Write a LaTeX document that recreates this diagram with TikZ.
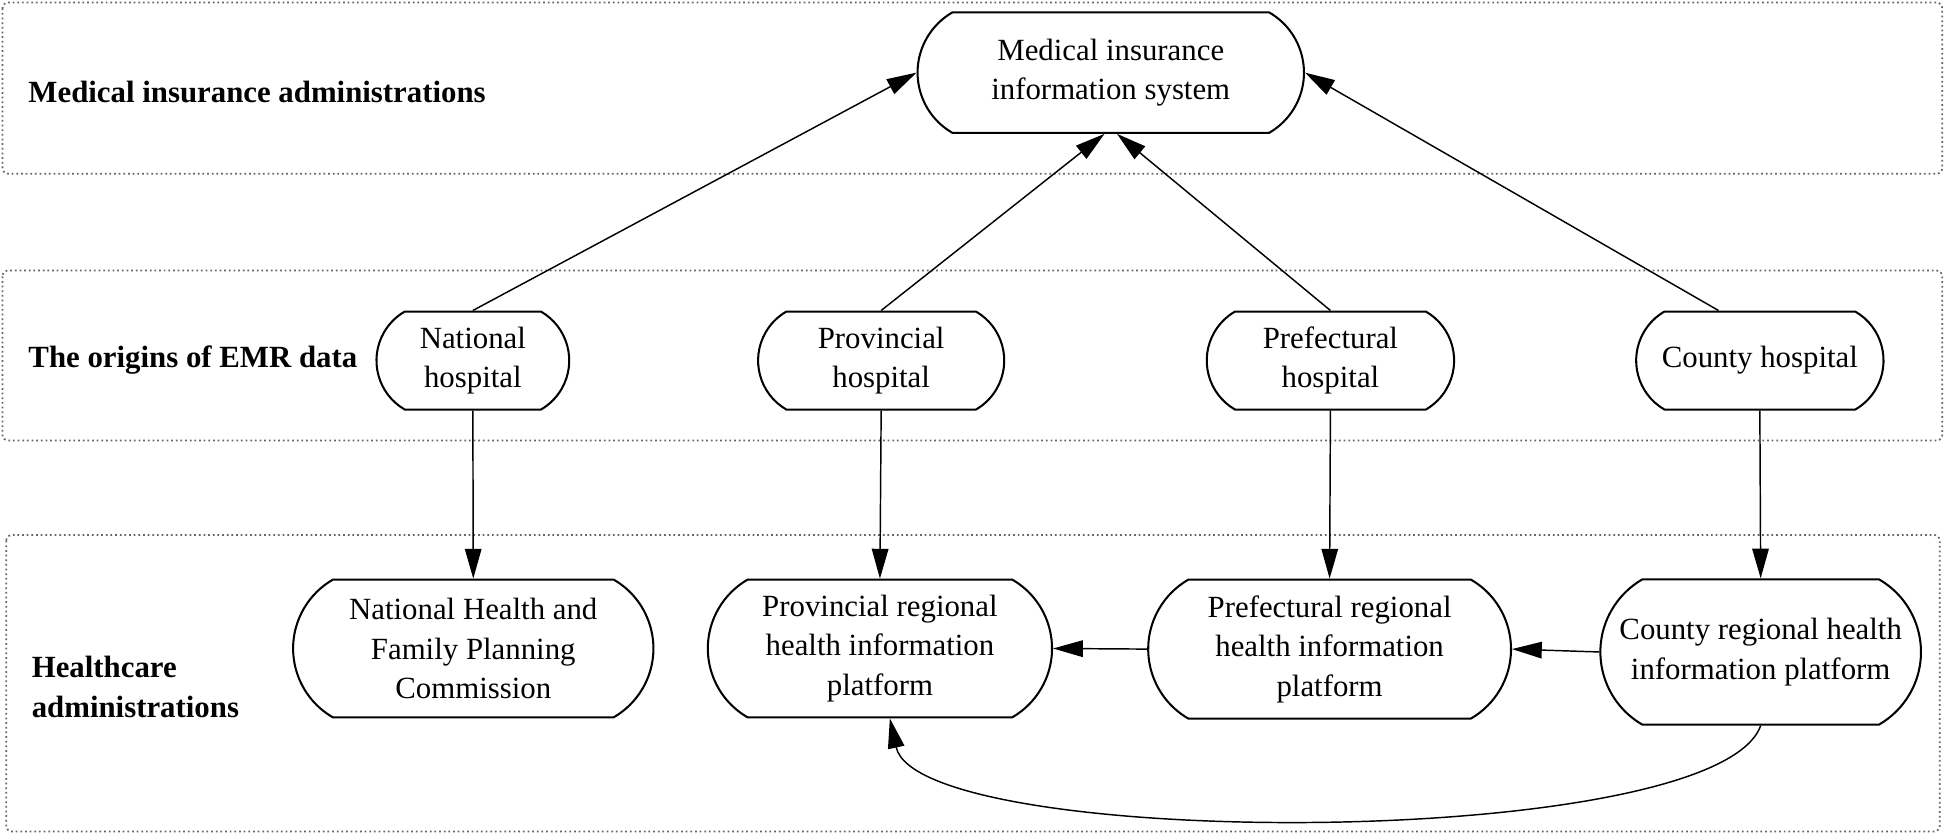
\documentclass[tikz,border=0pt]{standalone}
\usepackage{fontspec}
\setmainfont{Liberation Serif}
\usetikzlibrary{shapes.misc, arrows.meta}
\tikzset{
    lane/.style={draw=gray!80!black, densely dotted, line width=0.6pt, rounded corners=2pt},
    lanelabel/.style={anchor=west, align=left, font=\fontsize{10.6}{13.6}\selectfont\bfseries},
    box/.style={draw, rounded rectangle, rounded rectangle arc length=120, align=center, line width=0.7pt, inner sep=1pt, font=\fontsize{10.6}{13.6}\selectfont},
    flow/.style={-{Triangle[length=3.6mm,width=2mm]}, line width=0.5pt}
}
\begin{document}
\begin{tikzpicture}
        \useasboundingbox (0,0) rectangle (23.52,-10.095);
        
        %lanes
        \draw[lane] (0.03,-0.03) rectangle (23.475,-2.10);
        \draw[lane] (0.03,-3.27) rectangle (23.475,-5.325);
        \draw[lane] (0.075,-6.465) rectangle (23.445,-10.05);
        
        %labels
        \node[lanelabel] (lbins) at (0.22,-1.11) {Medical insurance administrations};
        \node[lanelabel] (lbemr) at (0.22,-4.35) {The origins of EMR data};
        \node[lanelabel] (lbcare) at (0.26,-8.30) {Healthcare\\administrations};
        
        %States
        \node[box, minimum width=4.74cm, minimum height=1.455cm] (mis) at (13.425,-0.8775) {Medical insurance\\information system};
        
        \node[box, minimum width=2.4cm, minimum height=1.185cm] (nathosp) at (5.715,-4.3575) {National\\hospital};
        \node[box, minimum width=3.045cm, minimum height=1.185cm] (provhosp) at (10.65,-4.3575) {Provincial\\hospital};
        \node[box, minimum width=3.06cm, minimum height=1.185cm] (prefhosp) at (16.08,-4.3575) {Prefectural\\hospital};
        \node[box, minimum width=3.06cm, minimum height=1.185cm] (cntyhosp) at (21.27,-4.3575) {County hospital};
        
        \node[box, minimum width=4.425cm, minimum height=1.665cm] (nhfpc) at (5.72,-7.8375) {National Health and\\Family Planning\\Commission};
        \node[box, minimum width=4.23cm, minimum height=1.665cm] (provplat) at (10.635,-7.8375) {Provincial regional\\health information\\platform};
        \node[box, minimum width=4.455cm, minimum height=1.68cm] (prefplat) at (16.07,-7.845) {Prefectural regional\\health information\\platform};
        \node[box, minimum width=3.945cm, minimum height=1.755cm] (cntyplat) at (21.28,-7.88) {County regional health\\information platform};
        
        %Edges
            %up
        \draw[flow] (nathosp.north) -- (mis.west);
        \draw[flow] (provhosp.north) -- ([xshift=-0.075cm]mis.south);
        \draw[flow] (prefhosp.north) -- ([xshift=0.075cm]mis.south);
        \draw[flow] ([xshift=-0.5cm]cntyhosp.north) -- (mis.east);
        
            %down
        \draw[flow] (nathosp.south) -- (nhfpc.north);
        \draw[flow] (provhosp.south) -- (provplat.north);
        \draw[flow] (prefhosp.south) -- (prefplat.north);
        \draw[flow] (cntyhosp.south) -- (cntyplat.north);
        
            %platforms
        \draw[flow] (prefplat.west) -- (provplat.east);
        \draw[flow] (cntyplat.west) -- (prefplat.east);
        \draw[flow] (cntyplat.south) .. controls +(-0.54,-1.52) and +(0.35,-1.6) .. ([xshift=0.12cm]provplat.south);
        
\end{tikzpicture}
\end{document}
